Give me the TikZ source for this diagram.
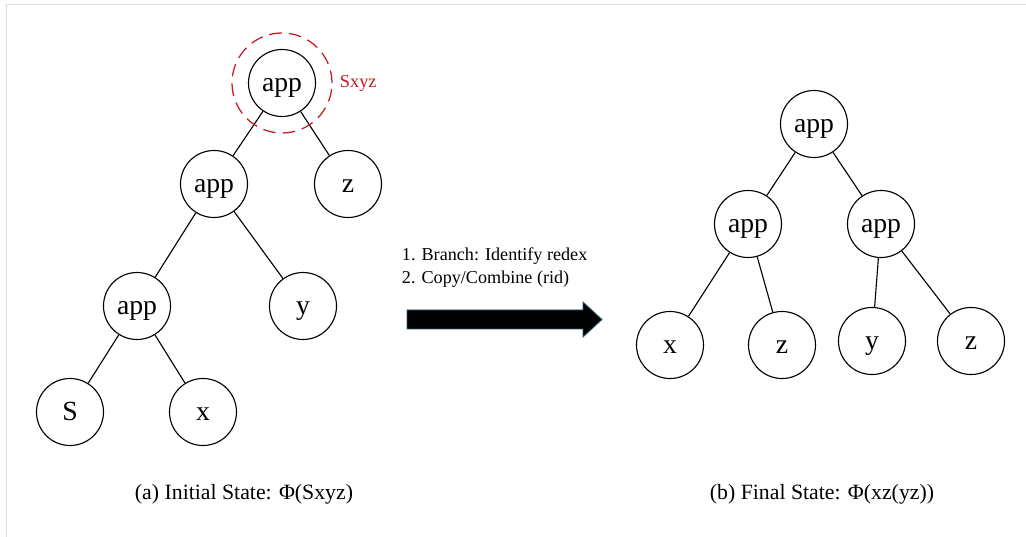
\documentclass[tikz,border=0pt]{standalone}
\usepackage{fontspec}
\setmainfont{Liberation Serif}
\usetikzlibrary{positioning}
\definecolor{redexred}{RGB}{196,26,32}
\definecolor{arrowedge}{RGB}{46,90,120}
\definecolor{framegray}{RGB}{222,222,222}
\tikzset{
  term/.style={draw, circle, line width=0.8pt, minimum size=1.675cm, inner sep=0pt,
    text height=12.6pt, text depth=0pt, font=\fontsize{19.7}{23}\selectfont},
  redex/.style={draw=redexred, circle, dashed, dash pattern=on 9pt off 5pt,
    line width=0.9pt, minimum size=2.5cm, inner sep=0pt},
  edge/.style={line width=0.8pt},
  caption/.style={font=\fontsize{15.5}{18}\selectfont},
}
\begin{document}
\begin{tikzpicture}[x=0.025cm, y=-0.025cm]
\useasboundingbox (0,0) rectangle (1026,537);
\draw[framegray, line width=1.4pt] (6.5,537)--(6.5,4.5)--(1026,4.5);

% (a) initial tree
\node[term] (a1) at (282,83) {app};
\node[term] (a2) at (214,184) {app};
\node[term] (za) at (348,184) {z};
\node[term] (a3) at (137,306) {app};
\node[term] (ya) at (303,306) {y};
\node[term] (sa) at (70,412) {S};
\node[term] (xa) at (203,412) {x};
\draw[edge] (a1)--(a2); \draw[edge] (a1)--(za);
\draw[edge] (a2)--(a3); \draw[edge] (a2)--(ya);
\draw[edge] (a3)--(sa); \draw[edge] (a3)--(xa);
\node[redex] (rdx) at (a1) {};
\node[redexred, anchor=west, font=\fontsize{13}{15}\selectfont] (rdxlbl) at (335,83) {Sxyz};
\node[caption] (capa) at (244,494) {(a) Initial State: Φ(Sxyz)};

% reduction step
\node[anchor=west, align=left, font=\fontsize{12.9}{16.4}\selectfont] (steps) at (397,268)
  {1. Branch: Identify redex\\2. Copy/Combine (rid)};
\draw[fill=black, draw=arrowedge, line width=0.6pt]
  (407,310)--(583,310)--(583,302)--(602,319.5)--(583,337)--(583,329)--(407,329)--cycle;

% (b) final tree
\node[term] (b1) at (814,124) {app};
\node[term] (b2) at (748,224) {app};
\node[term] (b3) at (881,224) {app};
\node[term] (xb) at (670,345) {x};
\node[term] (zb) at (782,345) {z};
\node[term] (yb) at (872,341) {y};
\node[term] (zc) at (971,341) {z};
\draw[edge] (b1)--(b2); \draw[edge] (b1)--(b3);
\draw[edge] (b2)--(xb); \draw[edge] (b2)--(zb);
\draw[edge] (b3)--(yb); \draw[edge] (b3)--(zc);
\node[caption] (capb) at (822,494) {(b) Final State: Φ(xz(yz))};
\end{tikzpicture}
\end{document}
